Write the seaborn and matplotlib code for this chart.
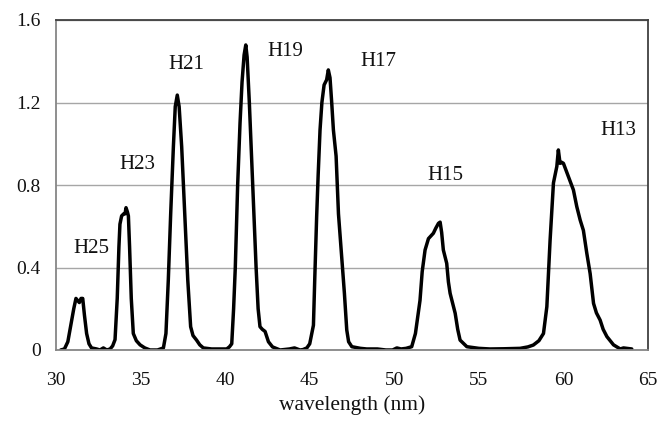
import matplotlib
matplotlib.use('Agg')
import pandas as pd
import matplotlib.pyplot as plt
import seaborn as sns

# spectrum (wavelength in nm, intensity)
wavelength = [
    30.28, 30.5, 30.7, 30.93, 31.05, 31.18, 31.28, 31.38, 31.48, 31.58, 31.68, 31.81, 31.95, 32.1,
    32.4, 32.6, 32.8, 33.0, 33.2, 33.35, 33.49, 33.62, 33.72, 33.78, 33.88, 34.0, 34.08, 34.14,
    34.22, 34.28, 34.35, 34.45, 34.57, 34.75, 34.97, 35.25, 35.56, 36.0, 36.35, 36.5, 36.64, 36.78,
    36.94, 37.05, 37.17, 37.28, 37.43, 37.63, 37.79, 37.96, 38.1, 38.31, 38.5, 38.71, 39.2, 39.7,
    40.09, 40.25, 40.39, 40.5, 40.6, 40.74, 40.88, 41.0, 41.12, 41.22, 41.3, 41.43, 41.63, 41.83,
    41.95, 42.06, 42.2, 42.36, 42.56, 42.8, 43.25, 43.8, 44.1, 44.43, 44.6, 44.83, 45.0, 45.22,
    45.3, 45.41, 45.5, 45.61, 45.72, 45.85, 46.0, 46.1, 46.2, 46.3, 46.4, 46.56, 46.7, 46.9,
    47.05, 47.19, 47.3, 47.49, 48.0, 48.37, 49.0, 49.5, 49.9, 50.15, 50.4, 50.7, 51.03, 51.25,
    51.52, 51.65, 51.82, 52.02, 52.31, 52.45, 52.61, 52.71, 52.8, 52.9, 53.1, 53.2, 53.3, 53.6,
    53.75, 53.89, 54.29, 55.0, 55.66, 56.5, 57.44, 57.9, 58.22, 58.55, 58.82, 59.02, 59.21, 59.41,
    59.61, 59.7, 59.8, 59.9, 60.0, 60.16, 60.39, 60.59, 60.79, 60.99, 61.18, 61.38, 61.58, 61.78,
    61.95, 62.17, 62.35, 62.57, 62.96, 63.36, 63.55, 63.75, 64.04,
]
intensity = [
    0.0, 0.005, 0.04, 0.145, 0.2, 0.25, 0.24, 0.23, 0.25, 0.25, 0.17, 0.08, 0.03, 0.01,
    0.005, 0.0, 0.01, 0.0, 0.005, 0.02, 0.05, 0.25, 0.5, 0.61, 0.65, 0.66, 0.66, 0.69,
    0.67, 0.65, 0.5, 0.25, 0.08, 0.045, 0.025, 0.01, 0.0, 0.0, 0.01, 0.08, 0.34, 0.66,
    0.986, 1.18, 1.236, 1.18, 0.986, 0.63, 0.34, 0.113, 0.07, 0.048, 0.025, 0.01, 0.005, 0.005,
    0.005, 0.015, 0.03, 0.2, 0.4, 0.8, 1.1, 1.3, 1.43, 1.479, 1.42, 1.2, 0.8, 0.4,
    0.2, 0.113, 0.1, 0.09, 0.04, 0.015, 0.0, 0.005, 0.01, 0.0, 0.002, 0.01, 0.03, 0.12,
    0.35, 0.646, 0.85, 1.067, 1.2, 1.285, 1.31, 1.358, 1.32, 1.2, 1.067, 0.94, 0.66, 0.44,
    0.276, 0.097, 0.04, 0.016, 0.008, 0.005, 0.005, 0.0, 0.0, 0.01, 0.005, 0.008, 0.016, 0.08,
    0.24, 0.38, 0.485, 0.54, 0.566, 0.59, 0.614, 0.62, 0.57, 0.485, 0.42, 0.33, 0.275, 0.178,
    0.1, 0.048, 0.016, 0.008, 0.005, 0.006, 0.008, 0.015, 0.024, 0.045, 0.08, 0.21, 0.53, 0.81,
    0.89, 0.97, 0.905, 0.91, 0.905, 0.87, 0.82, 0.776, 0.695, 0.63, 0.58, 0.47, 0.37, 0.226,
    0.18, 0.145, 0.1, 0.065, 0.025, 0.005, 0.01, 0.008, 0.005,
]

# harmonic labels and where they sit
harmonics = ['H25', 'H23', 'H21', 'H19', 'H17', 'H15', 'H13']
label_x = [32.11, 34.82, 37.73, 43.54, 49.06, 53.05, 63.24]
label_y = [0.493, 0.90, 1.382, 1.446, 1.398, 0.848, 1.062]

x_ticks = [30, 35, 40, 45, 50, 55, 60, 65]
y_ticks = [0, 0.4, 0.8, 1.2, 1.6]
y_tick_labels = ['0', '0.4', '0.8', '1.2', '1.6']

sns.set_style('white')
plt.rcParams['font.family'] = ['Liberation Serif', 'DejaVu Serif']

spectrum = pd.DataFrame({'wavelength': wavelength, 'intensity': intensity})

fig = plt.figure(figsize=(6.58, 4.28), dpi=100)
ax = fig.add_axes([56 / 658, 78 / 428, 592 / 658, 330 / 428])

sns.lineplot(x='wavelength', y='intensity', data=spectrum, ax=ax,
             color='black', linewidth=2.5, sort=False)

for name, lx, ly in zip(harmonics, label_x, label_y):
    ax.text(lx, ly, name, ha='center', va='center', fontsize=15, color='#111111')

ax.set_xlim(30, 65)
ax.set_ylim(0, 1.6)
ax.set_xticks(x_ticks)
ax.set_yticks(y_ticks)
ax.set_yticklabels(y_tick_labels)
ax.yaxis.grid(True, color='#a6a6a6', linewidth=1.0)
ax.set_axisbelow(True)

for side in ['top', 'right']:
    ax.spines[side].set_color('#404040')
    ax.spines[side].set_linewidth(1.3)
for side in ['left', 'bottom']:
    ax.spines[side].set_color('#868686')
    ax.spines[side].set_linewidth(1.3)

ax.tick_params(axis='both', direction='out', length=5, width=1.0, color='#868686',
               labelsize=14, labelcolor='#111111', pad=6)
ax.tick_params(axis='x', pad=11)
ax.set_xlabel('wavelength (nm)', fontsize=15.5, color='#111111', labelpad=4)
ax.set_ylabel('')

fig.savefig('out.png', dpi=100)
